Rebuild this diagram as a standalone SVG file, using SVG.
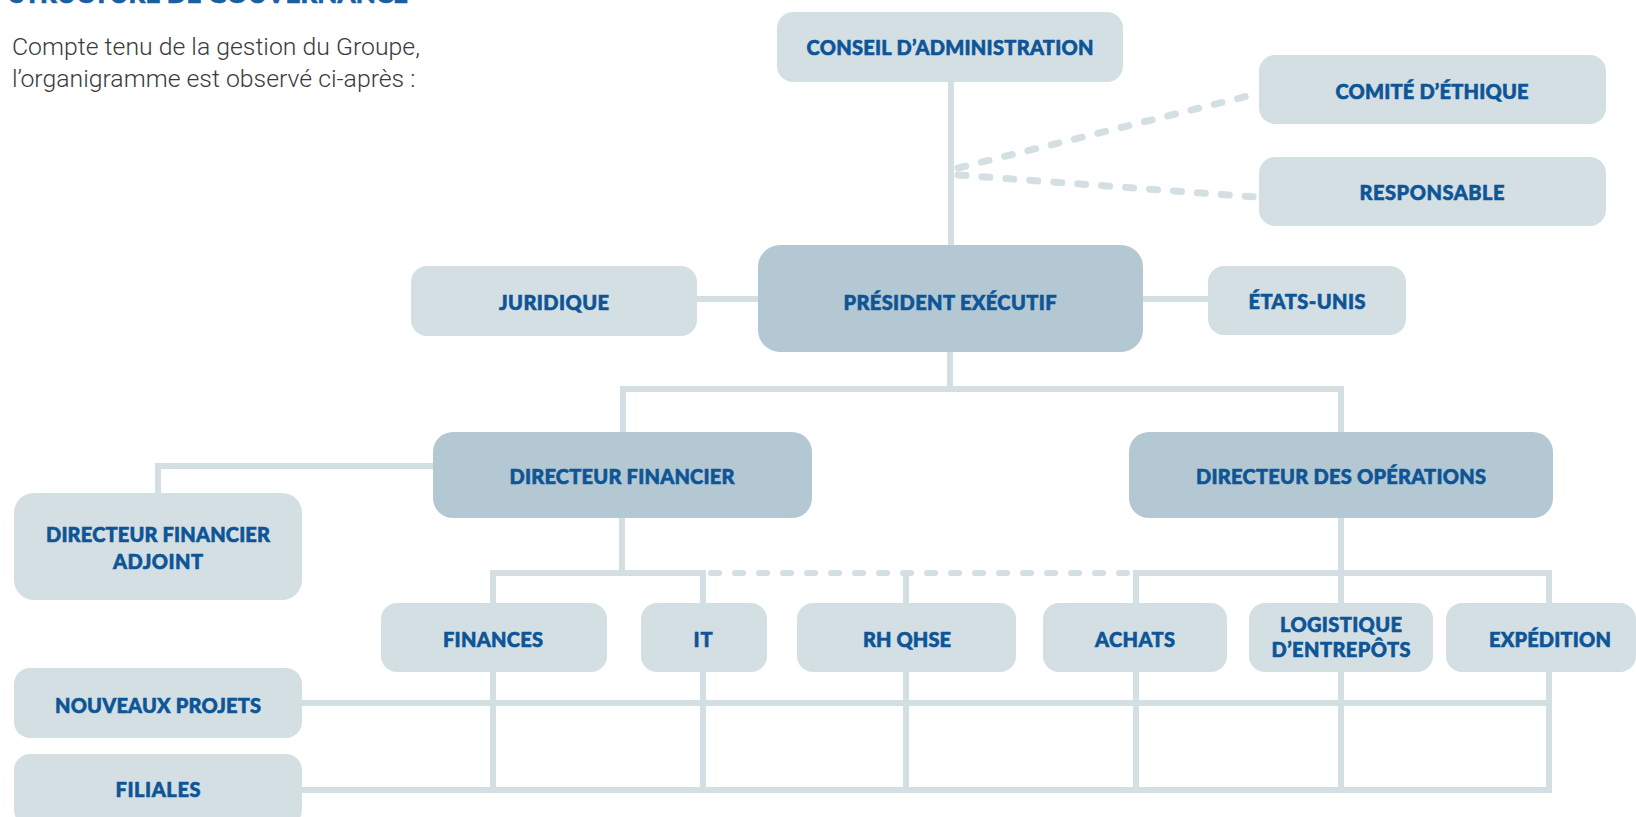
<svg xmlns="http://www.w3.org/2000/svg" width="1636" height="817" viewBox="0 0 1636 817">
  <style>
    .box-light { fill: #d4dfe4; }
    .box-dark { fill: #b4c8d3; }
    .label { font-family: Lato, "Liberation Sans", sans-serif; font-weight: 900; font-size: 20px; fill: #0d5596; stroke: #0d5596; stroke-width: 0.6; text-anchor: middle; }
    .intro { font-family: Roboto, "Liberation Sans", sans-serif; font-weight: 300; font-size: 24.8px; fill: #3a3a3a; }
    .title { font-family: Lato, "Liberation Sans", sans-serif; font-weight: 900; font-size: 26px; fill: #1b5f9f; stroke: #1b5f9f; stroke-width: 0.6; }
    .link { fill: none; stroke: #d4dfe3; stroke-width: 6; }
    .dash-top { fill: none; stroke: #d4dfe3; stroke-width: 7; stroke-linecap: round; stroke-dasharray: 8 16; }
    .dash-low { fill: none; stroke: #d4dfe3; stroke-width: 6; stroke-linecap: round; stroke-dasharray: 8 16; }
  </style>

  <!-- heading and intro -->
  <text class="title" x="10" y="3" textLength="398">STRUCTURE DE GOUVERNANCE</text>
  <text class="intro" x="12" y="55">Compte tenu de la gestion du Groupe,</text>
  <text class="intro" x="12" y="87">l’organigramme est observé ci-après :</text>

  <!-- connectors -->
  <g id="connectors">
    <!-- board to executive president -->
    <path class="link" d="M951 80 V247"/>
    <path class="dash-top" d="M958 168 L1256 94"/>
    <path class="dash-top" d="M958 175 L1256 197"/>
    <!-- president side links -->
    <path class="link" d="M695 299 H760"/>
    <path class="link" d="M1141 299 H1210"/>
    <!-- president to directors -->
    <path class="link" d="M950 350 V389"/>
    <path class="link" d="M623 434 V389 H1341 V434"/>
    <!-- CFO to deputy -->
    <path class="link" d="M435 466 H158 V495"/>
    <!-- CFO branch -->
    <path class="link" d="M622 516 V573"/>
    <path class="link" d="M493 605 V573 H706"/>
    <path class="link" d="M703 573 V605"/>
    <path class="dash-low" d="M711 573 H1127"/>
    <path class="link" d="M906 573 V605"/>
    <!-- COO branch -->
    <path class="link" d="M1341 516 V573"/>
    <path class="link" d="M1136 605 V573 H1549 V605"/>
    <path class="link" d="M1341 573 V605"/>
    <!-- grid to projects and subsidiaries -->
    <path class="link" d="M493 670 V793"/>
    <path class="link" d="M703 670 V793"/>
    <path class="link" d="M906 670 V793"/>
    <path class="link" d="M1136 670 V793"/>
    <path class="link" d="M1341 670 V793"/>
    <path class="link" d="M1549 670 V793"/>
    <path class="link" d="M300 703 H1552"/>
    <path class="link" d="M300 790 H1552"/>
  </g>

  <g id="conseil">
    <rect class="box-light" x="777" y="12" width="346" height="70" rx="16"/>
    <text class="label" x="950" y="55" textLength="287">CONSEIL D’ADMINISTRATION</text>
  </g>
  <g id="comite-ethique">
    <rect class="box-light" x="1259" y="55" width="347" height="69" rx="16"/>
    <text class="label" x="1432" y="99" textLength="193">COMITÉ D’ÉTHIQUE</text>
  </g>
  <g id="responsable">
    <rect class="box-light" x="1259" y="157" width="347" height="69" rx="16"/>
    <text class="label" x="1432" y="200" textLength="145">RESPONSABLE</text>
  </g>
  <g id="president">
    <rect class="box-dark" x="758" y="245" width="385" height="107" rx="22"/>
    <text class="label" x="950" y="310" textLength="213">PRÉSIDENT EXÉCUTIF</text>
  </g>
  <g id="juridique">
    <rect class="box-light" x="411" y="266" width="286" height="70" rx="16"/>
    <text class="label" x="554" y="310" textLength="110">JURIDIQUE</text>
  </g>
  <g id="etats-unis">
    <rect class="box-light" x="1208" y="266" width="198" height="69" rx="16"/>
    <text class="label" x="1307" y="309" textLength="117">ÉTATS-UNIS</text>
  </g>
  <g id="directeur-financier">
    <rect class="box-dark" x="433" y="432" width="379" height="86" rx="20"/>
    <text class="label" x="622" y="484" textLength="225">DIRECTEUR FINANCIER</text>
  </g>
  <g id="directeur-operations">
    <rect class="box-dark" x="1129" y="432" width="424" height="86" rx="20"/>
    <text class="label" x="1341" y="484" textLength="290">DIRECTEUR DES OPÉRATIONS</text>
  </g>
  <g id="directeur-financier-adjoint">
    <rect class="box-light" x="14" y="493" width="288" height="107" rx="20"/>
    <text class="label" x="158" y="542" textLength="224">DIRECTEUR FINANCIER</text>
    <text class="label" x="158" y="569" textLength="90">ADJOINT</text>
  </g>
  <g id="finances">
    <rect class="box-light" x="381" y="603" width="226" height="69" rx="16"/>
    <text class="label" x="493" y="647" textLength="100">FINANCES</text>
  </g>
  <g id="it">
    <rect class="box-light" x="641" y="603" width="126" height="69" rx="16"/>
    <text class="label" x="703" y="647" textLength="19">IT</text>
  </g>
  <g id="rh-qhse">
    <rect class="box-light" x="797" y="603" width="219" height="69" rx="16"/>
    <text class="label" x="907" y="647" textLength="88">RH QHSE</text>
  </g>
  <g id="achats">
    <rect class="box-light" x="1043" y="603" width="184" height="69" rx="16"/>
    <text class="label" x="1135" y="647" textLength="80">ACHATS</text>
  </g>
  <g id="logistique">
    <rect class="box-light" x="1249" y="603" width="184" height="69" rx="16"/>
    <text class="label" x="1341" y="632" textLength="122">LOGISTIQUE</text>
    <text class="label" x="1341" y="657" textLength="139">D’ENTREPÔTS</text>
  </g>
  <g id="expedition">
    <rect class="box-light" x="1446" y="603" width="190" height="69" rx="16"/>
    <text class="label" x="1550" y="647" textLength="122">EXPÉDITION</text>
  </g>
  <g id="nouveaux-projets">
    <rect class="box-light" x="14" y="668" width="288" height="70" rx="16"/>
    <text class="label" x="158" y="713" textLength="206">NOUVEAUX PROJETS</text>
  </g>
  <g id="filiales">
    <rect class="box-light" x="14" y="754" width="288" height="72" rx="16"/>
    <text class="label" x="158" y="797" textLength="85">FILIALES</text>
  </g>
</svg>
